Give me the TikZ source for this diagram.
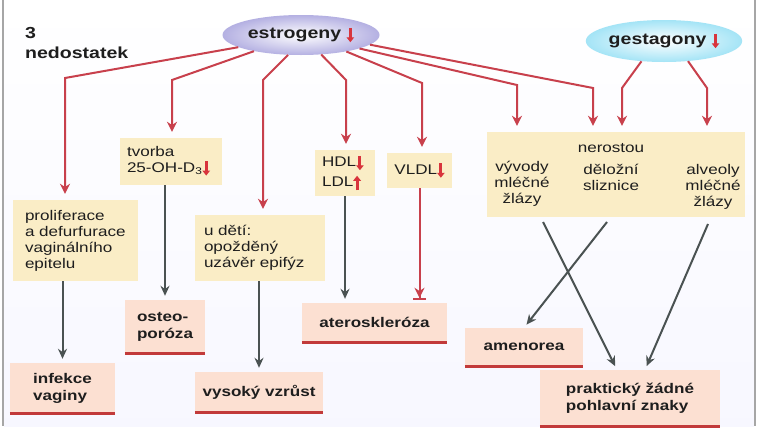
\documentclass[tikz,border=0pt]{standalone}
\usepackage{fontspec}
\setmainfont{Liberation Sans}[FakeStretch=1.22]
\usetikzlibrary{arrows.meta,shapes.geometric,calc}

\definecolor{linered}{HTML}{C8404C}
\definecolor{arrred}{HTML}{D8343C}
\definecolor{arrgray}{HTML}{4A5252}
\definecolor{boxyel}{HTML}{FAEDC6}
\definecolor{boxpink}{HTML}{FCE0D2}
\definecolor{ulred}{HTML}{C23A3A}
\definecolor{txt}{HTML}{1E1E1E}
\definecolor{estout}{HTML}{B4B0E2}
\definecolor{gestout}{HTML}{A4E4F6}

% small red arrows inside the texts
\newcommand{\arrdn}{\tikz[baseline=0pt]\draw[arrred,line width=3pt,-{Triangle[length=5pt,width=7.5pt]}] (0,11pt) -- (0,-3.5pt);}
\newcommand{\arrup}{\tikz[baseline=0pt]\draw[arrred,line width=3pt,-{Triangle[length=5pt,width=7.5pt]}] (0,-3.5pt) -- (0,11pt);}

\tikzset{
  hormon/.style={ellipse,inner sep=0pt,text=txt,font=\fontsize{16}{18}\selectfont\bfseries},
  midbox/.style={fill=boxyel,inner ysep=0pt,align=left,text=txt,font=\fontsize{14}{16}\selectfont},
  midtext/.style={inner sep=0pt,align=center,text=txt,font=\fontsize{14}{16}\selectfont},
  endbox/.style={fill=boxpink,inner sep=0pt,align=left,text=txt,font=\fontsize{14}{17}\selectfont\bfseries},
  conn/.style={draw=linered,line width=2pt,-{Stealth[length=10pt,width=10pt]},shorten >=6pt},
  darr/.style={draw=arrgray,line width=2pt,-{Stealth[length=10pt,width=9pt]},shorten >=4pt},
  uline/.style={draw=ulred,line width=2.6pt},
}

\begin{document}
\begin{tikzpicture}[x=1pt,y=-1pt]
  \useasboundingbox (0,0) rectangle (759,434);
  \shade[top color=white,bottom color=black!5!blue!3] (4,0) rectangle (754,426);
  \draw[gray!70,line width=1.5pt] (3,0) -- (3,426);
  \draw[gray!70,line width=1.5pt] (755,0) -- (755,426);

  % hormones
  \node[hormon,minimum width=157,minimum height=40,inner color=white,outer color=estout]
    (est) at (301,35) {estrogeny \arrdn};
  \node[hormon,minimum width=155,minimum height=42,inner color=white,outer color=gestout]
    (gest) at (664,41) {gestagony \arrdn};
  \node[anchor=north west,inner sep=0pt,align=left,text=txt,font=\fontsize{16}{20}\selectfont\bfseries]
    (title) at (25,27) {3\\nedostatek};

  % middle boxes
  \node[midbox,text width=88,inner xsep=7,minimum height=47] (tvorba) at (171,161.5)
    {tvorba\\\mbox{25-OH-D\textsubscript{3}\arrdn}};
  \node[midbox,text width=101,inner xsep=12,minimum height=81] (prolif) at (75.5,240.5)
    {proliferace\\a defurfurace\\vaginálního\\epitelu};
  \node[midbox,text width=112,inner xsep=9,minimum height=66] (udeti) at (260,248)
    {u dětí:\\opožděný\\uzávěr epifýz};
  \node[midbox,text width=46,inner xsep=7,minimum height=46,font=\fontsize{14}{20}\selectfont] (hdl) at (345,173)
    {HDL\arrdn\\LDL\arrup};
  \node[midbox,align=center,minimum width=65,minimum height=35] (vldl) at (419.5,170.5)
    {VLDL\arrdn};
  \node[fill=boxyel,minimum width=258,minimum height=85] (big) at (616,174.5) {};
  \node[midtext] (nerost) at (611,148) {nerostou};
  \node[midtext] (vyvody) at (522,184) {vývody\\mléčné\\žlázy};
  \node[midtext] (deloz) at (611,177) {děložní\\sliznice};
  \node[midtext] (alveol) at (713,187) {alveoly\\mléčné\\žlázy};

  % outcomes
  \node[endbox,minimum width=105,minimum height=50] (inf) at (62.5,388) {infekce\\vaginy};
  \node[endbox,minimum width=80,minimum height=53] (ost) at (165,326.5) {osteo-\\poróza};
  \node[endbox,minimum width=128,minimum height=40] (vys) at (259,392) {vysoký vzrůst};
  \node[endbox,minimum width=145,minimum height=39] (ater) at (374.5,322.5) {ateroskleróza};
  \node[endbox,minimum width=118,minimum height=38] (amen) at (524,347) {amenorea};
  \node[endbox,minimum width=180,minimum height=56] (prak) at (630,398) {praktický žádné\\pohlavní znaky};
  \foreach \n in {inf,ost,vys,ater,amen,prak}
    \draw[uline] (\n.south west) -- (\n.south east);

  % red connectors from the hormones
  \coordinate (k1) at (65,78);
  \coordinate (k2) at (172,80);
  \coordinate (k3) at (263,80);
  \coordinate (k4) at (346,80);
  \coordinate (k5) at (422,83);
  \coordinate (k6) at (517,85);
  \coordinate (k7) at (593,88);
  \coordinate (g1) at (622,88);
  \coordinate (g2) at (707,88);
  \draw[conn] (est.191) -- (k1) -- (k1 |- prolif.north);
  \draw[conn] (est.199) -- (k2) -- (k2 |- tvorba.north);
  \draw[conn] (est.237) -- (k3) -- (k3 |- udeti.north);
  \draw[conn] (est.316) -- (k4) -- (k4 |- hdl.north);
  \draw[conn] (est.340) -- (k5) -- (k5 |- vldl.north);
  \draw[conn] (est.347) -- (k6) -- (k6 |- big.north);
  \draw[conn] (est.352) -- (k7) -- (k7 |- big.north);
  \draw[conn] (gest.222) -- (g1) -- (g1 |- big.north);
  \draw[conn] (gest.320) -- (g2) -- (g2 |- big.north);

  % consequences
  \draw[darr] (prolif.south -| inf.north) -- (inf.north);
  \draw[darr] (tvorba.south -| ost.north) -- (ost.north);
  \draw[darr] (udeti.south -| vys.north) -- (vys.north);
  \draw[darr] (hdl.south) -- (hdl.south |- ater.north);
  \draw[draw=linered,line width=2pt,-{Stealth[length=10pt,width=10pt] Bar[width=13pt]},shorten >=3pt]
    (vldl.south) -- (vldl.south |- ater.north);
  \coordinate (o1) at (543,222);
  \coordinate (o2) at (607,222);
  \coordinate (o3) at (708,224);
  \draw[darr] (o1) -- ($(prak.north)+(-13,0)$);
  \draw[darr] (o2) -- (amen.north);
  \draw[darr] (o3) -- ($(prak.north)+(15,0)$);
\end{tikzpicture}
\end{document}
